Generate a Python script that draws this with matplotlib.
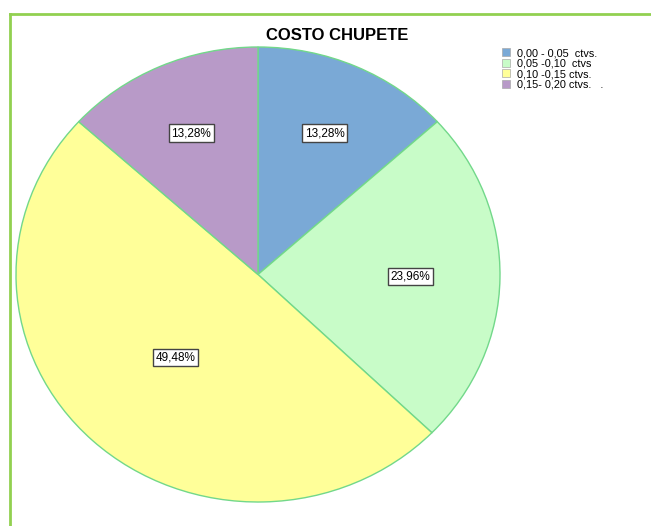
import numpy as np
import matplotlib
matplotlib.use("Agg")
import matplotlib.pyplot as plt
from matplotlib.lines import Line2D
from matplotlib.patches import Patch

plt.rcParams['font.family'] = ['Liberation Sans', 'DejaVu Sans']

# data
categorias = ["0,00 - 0,05  ctvs.", "0,05 -0,10  ctvs", "0,10 -0,15 ctvs.", "0,15- 0,20 ctvs.   ."]
porcentajes = [13.28, 23.96, 49.48, 13.28]
etiquetas = ["13,28%", "23,96%", "49,48%", "13,28%"]

colores = ['#7aa9d6', '#c8fcc8', '#ffff99', '#b89ac8']
borde = '#72d88a'
radio_etiqueta = [0.68, 0.63, 0.50, 0.68]

fig = plt.figure(figsize=(6.51, 5.26), dpi=100)
W, H = 651., 526.
ax = fig.add_axes([16 / W, (H - 502) / H, 484 / W, 455 / H])

wedges, _ = ax.pie(porcentajes, colors=colores, startangle=90, counterclock=False,
                   wedgeprops=dict(edgecolor=borde, linewidth=1.0))
ax.set_aspect('auto')
ax.set_xlim(-1, 1)
ax.set_ylim(-1, 1)

# percentage boxes
for w, txt, r in zip(wedges, etiquetas, radio_etiqueta):
    ang = np.deg2rad((w.theta1 + w.theta2) / 2.)
    ax.text(r * np.cos(ang), r * np.sin(ang), txt, ha='center', va='center', fontsize=8.5,
            bbox=dict(boxstyle='square,pad=0.22', facecolor='white', edgecolor='#444444', linewidth=1))

fig.text(337 / W, 1 - 35 / H, "COSTO CHUPETE", ha='center', va='center',
         fontsize=12, fontweight='bold')

handles = [Patch(facecolor=c, edgecolor='#aaaaaa', linewidth=0.5) for c in colores]
fig.legend(handles, categorias, loc='upper left', bbox_to_anchor=(502 / W, 1 - 48 / H),
           frameon=False, fontsize=7.8, handlelength=0.75, handleheight=0.75,
           handletextpad=0.6, labelspacing=0.05, borderaxespad=0, borderpad=0)

# green frame
verde = '#92d050'
fig.add_artist(Line2D([9.5 / W, 9.5 / W], [0, 1 - 14 / H], color=verde, linewidth=2))
fig.add_artist(Line2D([9.5 / W, 1], [1 - 14 / H, 1 - 14 / H], color=verde, linewidth=2))

fig.savefig("out.png", dpi=100)
